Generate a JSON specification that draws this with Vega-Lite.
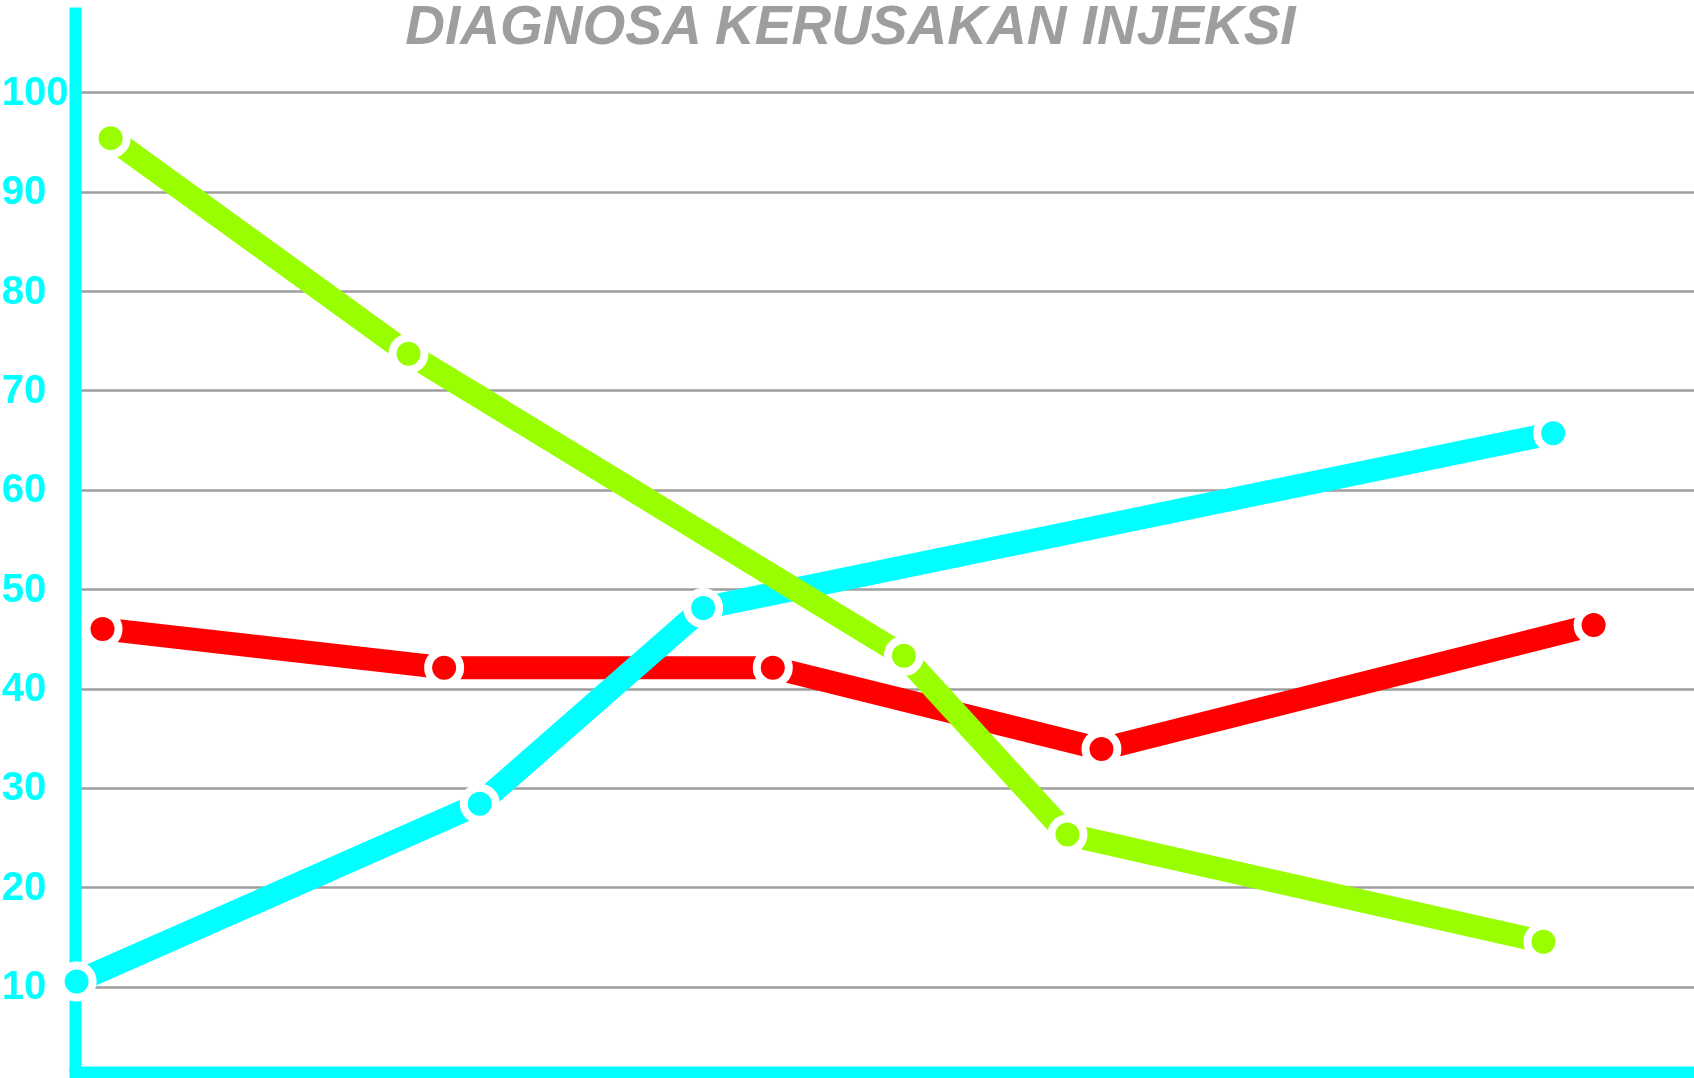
{
  "$schema": "https://vega.github.io/schema/vega-lite/v6.json",
  "autosize": {"type": "none"},
  "padding": {"left": 75, "top": 7, "right": 0, "bottom": 6},
  "width": 1619,
  "height": 1065,
  "background": "white",
  "title": {
    "text": "DIAGNOSA KERUSAKAN INJEKSI",
    "anchor": "middle",
    "frame": "group",
    "dx": -34,
    "dy": 92,
    "offset": 0,
    "baseline": "alphabetic",
    "font": "Liberation Sans",
    "fontSize": 55,
    "fontWeight": "bold",
    "fontStyle": "italic",
    "color": "#9e9e9e"
  },
  "config": {"view": {"stroke": null}},
  "data": {
    "values": [
      {"seri": "merah", "x": 1.7, "nilai": 46.0},
      {"seri": "merah", "x": 22.8, "nilai": 42.1},
      {"seri": "merah", "x": 43.1, "nilai": 42.1},
      {"seri": "merah", "x": 63.4, "nilai": 33.9},
      {"seri": "merah", "x": 93.8, "nilai": 46.4},
      {"seri": "cyan", "x": 0.1, "nilai": 10.5},
      {"seri": "cyan", "x": 25.0, "nilai": 28.4},
      {"seri": "cyan", "x": 38.8, "nilai": 48.1},
      {"seri": "cyan", "x": 91.3, "nilai": 65.7},
      {"seri": "hijau", "x": 2.2, "nilai": 95.4},
      {"seri": "hijau", "x": 20.6, "nilai": 73.7},
      {"seri": "hijau", "x": 51.2, "nilai": 43.3},
      {"seri": "hijau", "x": 61.3, "nilai": 25.3},
      {"seri": "hijau", "x": 90.7, "nilai": 14.5}
    ]
  },
  "encoding": {
    "x": {
      "field": "x",
      "type": "quantitative",
      "scale": {"domain": [0, 100], "nice": false, "zero": false},
      "axis": {
        "title": null,
        "labels": false,
        "ticks": false,
        "grid": false,
        "domainColor": "#00ffff",
        "domainWidth": 12,
        "domainCap": "square"
      }
    },
    "y": {
      "field": "nilai",
      "type": "quantitative",
      "scale": {"domain": [1.4, 108.6], "nice": false, "zero": false},
      "axis": {
        "title": null,
        "values": [10, 20, 30, 40, 50, 60, 70, 80, 90, 100],
        "ticks": false,
        "tickSize": 0,
        "labelPadding": 74,
        "labelAlign": "left",
        "labelFont": "Liberation Sans",
        "labelFontSize": 40,
        "labelFontWeight": "bold",
        "labelColor": "#00ffff",
        "domainColor": "#00ffff",
        "domainWidth": 12,
        "gridColor": "#9e9e9e",
        "gridWidth": 2.5,
        "gridOpacity": 1
      }
    },
    "color": {
      "field": "seri",
      "type": "nominal",
      "scale": {"domain": ["merah", "cyan", "hijau"], "range": ["#ff0000", "#00ffff", "#99ff00"]},
      "legend": null
    }
  },
  "layer": [
    {"transform": [{"filter": "datum.seri === 'merah'"}], "mark": {"type": "line", "strokeWidth": 23, "strokeCap": "butt"}},
    {"transform": [{"filter": "datum.seri === 'merah'"}], "mark": {"type": "circle", "size": 1024, "opacity": 1, "stroke": "white", "strokeWidth": 8}},
    {"transform": [{"filter": "datum.seri === 'cyan'"}], "mark": {"type": "line", "strokeWidth": 23, "strokeCap": "butt"}},
    {"transform": [{"filter": "datum.seri === 'cyan'"}], "mark": {"type": "circle", "size": 1024, "opacity": 1, "stroke": "white", "strokeWidth": 8}},
    {"transform": [{"filter": "datum.seri === 'hijau'"}], "mark": {"type": "line", "strokeWidth": 23, "strokeCap": "butt"}},
    {"transform": [{"filter": "datum.seri === 'hijau'"}], "mark": {"type": "circle", "size": 1024, "opacity": 1, "stroke": "white", "strokeWidth": 8}}
  ]
}
